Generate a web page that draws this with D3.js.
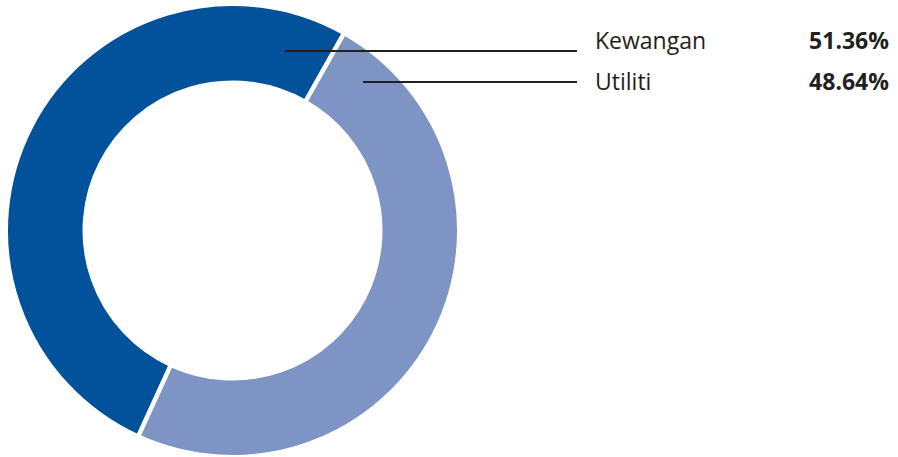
<!DOCTYPE html>
<html>
<head>
<meta charset="utf-8">
<script src="https://cdn.jsdelivr.net/npm/d3@7"></script>
<style>
  body { margin: 0; background: #fff; }
  text { font-family: "Open Sans", "Noto Sans", sans-serif; fill: #231f20; }
</style>
</head>
<body>
<svg width="898" height="457"></svg>
<script>
var categories = ["Kewangan", "Utiliti"];
var values = [51.36, 48.64];
var valueLabels = ["51.36%", "48.64%"];
var colors = ["#01529b", "#7d94c5"];

var svg = d3.select("svg"),
    cx = 232.5, cy = 230.5,
    gap = 4.4,
    // radii include half the white stroke so the visible ring is 150..224.5
    outerR = 224.5 + gap / 2, innerR = 150 - gap / 2;

var pie = d3.pie().sort(null)
    .startAngle(-155.4 * Math.PI / 180)
    .endAngle(-155.4 * Math.PI / 180 + 2 * Math.PI);

var arc = d3.arc().innerRadius(innerR).outerRadius(outerR);

var g = svg.append("g").attr("transform", "translate(" + cx + "," + cy + ")");

g.selectAll("path")
  .data(pie(values))
  .enter().append("path")
  .attr("d", arc)
  .attr("fill", function(d, i) { return colors[i]; })
  .attr("stroke", "#fff")
  .attr("stroke-width", gap);

// leader lines: start inside the ring, run right to the legend
var anchors = [{ang: 16.3, r: 187}, {ang: 41.3, r: 197.7}];
var rowY = [51, 82];
var lineEnd = 577;

anchors.forEach(function(a, i) {
  var rad = a.ang * Math.PI / 180;
  var x0 = cx + a.r * Math.sin(rad);
  svg.append("line")
    .attr("x1", x0).attr("x2", lineEnd)
    .attr("y1", rowY[i]).attr("y2", rowY[i])
    .attr("stroke", "#231f20")
    .attr("stroke-width", 2);
});

var baseY = [49, 90];
categories.forEach(function(c, i) {
  svg.append("text")
    .attr("x", 595).attr("y", baseY[i])
    .attr("font-size", 23)
    .text(c);
  svg.append("text")
    .attr("x", 889).attr("y", baseY[i])
    .attr("font-size", 23)
    .attr("font-weight", "bold")
    .attr("text-anchor", "end")
    .text(valueLabels[i]);
});
</script>
</body>
</html>
